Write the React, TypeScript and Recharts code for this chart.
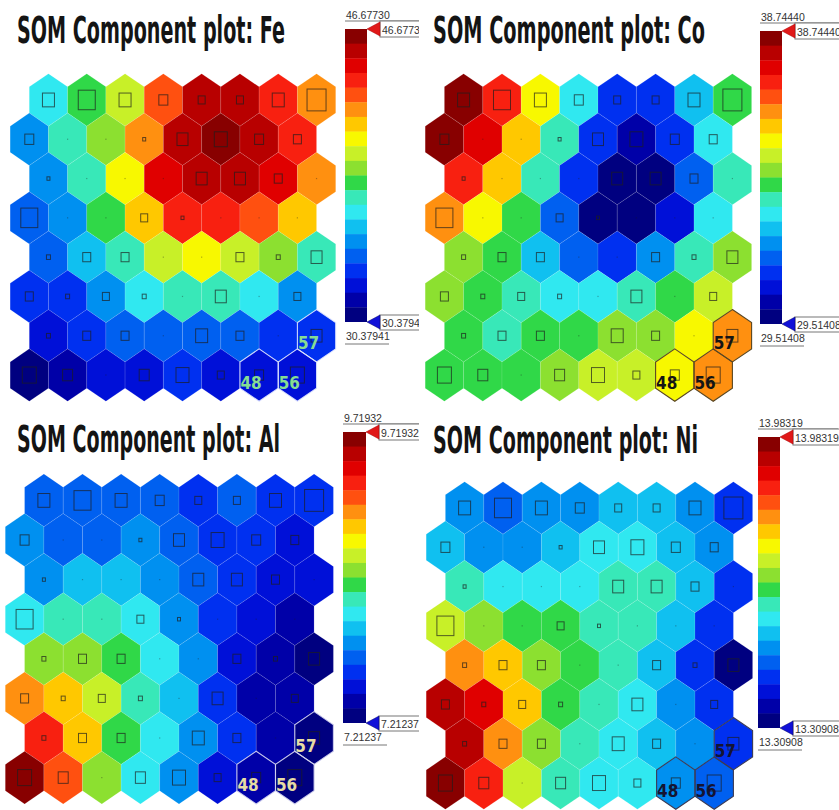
import React from "react";
import { ScatterChart, Scatter, XAxis, YAxis, BarChart, Bar, Cell } from "recharts";

// colour level per SOM node (0 = min ... 19 = max), rows top to bottom, 8 x 8 hex map
const feLevels = [
  [7, 9, 11, 15, 18, 18, 16, 14],
  [5, 8, 10, 14, 18, 19, 18, 16],
  [5, 8, 12, 17, 18, 18, 17, 14],
  [4, 5, 9, 13, 16, 16, 15, 13],
  [4, 6, 8, 11, 12, 11, 10, 8],
  [3, 3, 5, 7, 8, 8, 7, 5],
  [2, 3, 4, 4, 4, 4, 3, 3],
  [0, 1, 2, 2, 3, 2, 2, 2],
];
const coLevels = [
  [19, 16, 12, 7, 3, 3, 6, 9],
  [19, 17, 13, 8, 3, 1, 3, 7],
  [16, 13, 8, 3, 0, 0, 4, 8],
  [14, 12, 9, 4, 0, 0, 2, 7],
  [10, 9, 6, 4, 3, 5, 8, 10],
  [10, 9, 8, 7, 7, 8, 9, 11],
  [9, 8, 9, 9, 10, 10, 12, 14],
  [9, 9, 9, 10, 11, 11, 12, 14],
];
const alLevels = [
  [4, 4, 4, 4, 3, 4, 3, 3],
  [5, 4, 4, 5, 4, 3, 3, 2],
  [5, 6, 6, 5, 4, 3, 2, 2],
  [7, 8, 8, 7, 5, 3, 2, 1],
  [10, 10, 9, 7, 5, 2, 1, 0],
  [14, 13, 11, 8, 6, 3, 1, 1],
  [16, 13, 9, 7, 5, 3, 1, 0],
  [19, 15, 10, 7, 5, 2, 1, 0],
];
const niLevels = [
  [5, 4, 5, 5, 6, 6, 5, 3],
  [6, 5, 5, 6, 7, 7, 6, 5],
  [8, 7, 7, 7, 8, 8, 6, 3],
  [11, 10, 9, 9, 8, 8, 6, 3],
  [14, 13, 10, 9, 8, 6, 3, 0],
  [18, 17, 13, 9, 8, 7, 5, 3],
  [18, 14, 10, 8, 7, 6, 5, 3],
  [19, 16, 11, 8, 7, 7, 5, 4],
];

// hits per node, same map for all four planes
const hits = [
  [12, 17, 12, 9, 7, 7, 12, 19],
  [9, 0, 0, 3, 11, 13, 9, 8],
  [3, 0, 0, 0, 11, 11, 8, 0],
  [17, 0, 0, 7, 3, 0, 0, 0],
  [4, 8, 8, 0, 0, 8, 4, 11],
  [8, 4, 7, 4, 0, 11, 0, 7],
  [4, 8, 8, 0, 12, 8, 0, 11],
  [14, 10, 0, 10, 13, 7, 9, 14],
];

const markedNodes = [
  { row: 7, col: 6, label: "48" },
  { row: 7, col: 7, label: "56" },
  { row: 6, col: 7, label: "57" },
];

const components = ["Fe", "Co", "Al", "Ni"];
const maxValues = ["46.67730", "38.74440", "9.71932", "13.98319"];
const minValues = ["30.37941", "29.51408", "7.21237", "13.30908"];
const levelSets = [feLevels, coLevels, alLevels, niLevels];

const colorbarLevels = [19, 18, 17, 16, 15, 14, 13, 12, 11, 10, 9, 8, 7, 6, 5, 4, 3, 2, 1, 0];

const JET = [
  "#000080", "#0000a8", "#0010d8", "#0030f0", "#0060f0",
  "#0090f0", "#10c0f0", "#30e8f0", "#38e8b8", "#30d848",
  "#8ce030", "#c8f028", "#f8f800", "#ffc800", "#ff9010",
  "#ff5010", "#f82010", "#e00000", "#b80000", "#880000",
];

const panels = [
  { clip: { x: 0, y: 0, w: 419, h: 403 }, titleX: 17, titleY: 43, titleLen: 268, x0: 29, y0: 100, dx: 38.3, dy: 39.3,
    cb: { x: 345, y: 29, w: 22, h: 293 }, markFill: "#86dc92", markStroke: "rgba(225,230,255,0.85)" },
  { clip: { x: 419, y: 0, w: 420, h: 403 }, titleX: 433, titleY: 43, titleLen: 272, x0: 444, y0: 100, dx: 38.4, dy: 39.3,
    cb: { x: 760, y: 31, w: 22, h: 293 }, markFill: "#151515", markStroke: "#5a4620" },
  { clip: { x: 0, y: 403, w: 419, h: 407 }, titleX: 17, titleY: 452, titleLen: 263, x0: 25, y0: 500, dx: 38.6, dy: 39.6,
    cb: { x: 343, y: 432, w: 23, h: 291 }, markFill: "#e6dca4", markStroke: "rgba(210,210,240,0.85)" },
  { clip: { x: 419, y: 403, w: 420, h: 407 }, titleX: 433, titleY: 453, titleLen: 265, x0: 445, y0: 508, dx: 38.4, dy: 39.3,
    cb: { x: 758, y: 437, w: 22, h: 291 }, markFill: "#141433", markStroke: "#3a3a55" },
];

const NARROW = "'Liberation Sans Narrow', 'DejaVu Sans Condensed', sans-serif";
const SANS = "'Liberation Sans', Arial, sans-serif";

function hexPoints(cx: number, cy: number, dx: number, dy: number) {
  const hw = dx / 2;
  const hh = dy / 1.5;
  return [
    [0, -hh], [hw, -hh / 2], [hw, hh / 2], [0, hh], [-hw, hh / 2], [-hw, -hh / 2],
  ].map(([a, b]) => `${cx + a},${cy + b}`).join(" ");
}

function Panel({ idx }: { idx: number }) {
  const p = panels[idx];
  const { dx, dy, cb } = p;
  const nodes = levelSets[idx].flatMap((row, r) =>
    row.map((level, c) => ({ x: c + (r % 2 === 0 ? 0.5 : 0), y: r, level, hits: hits[r][c] }))
  );
  const marks = markedNodes.map((m) => ({ x: m.col + (m.row % 2 === 0 ? 0.5 : 0), y: m.row, label: m.label }));
  const cbData = colorbarLevels.map((l) => ({ level: String(l), span: 1 }));

  const nodeShape = (props: any) => {
    const { cx, cy, payload } = props;
    const s = payload.hits;
    const h = s * 1.15;
    return (
      <g>
        <polygon points={hexPoints(cx, cy, dx, dy)} fill={JET[payload.level]} stroke="rgba(255,255,255,0.18)" strokeWidth={0.6} />
        {s > 0 ? (
          <rect x={cx - s / 2} y={cy - h / 2} width={s} height={h} fill="none" stroke="rgba(30,30,30,0.7)" strokeWidth={1} />
        ) : (
          <rect x={cx - 0.6} y={cy - 0.6} width={1.2} height={1.2} fill="rgba(30,30,30,0.35)" />
        )}
      </g>
    );
  };

  const markShape = (props: any) => {
    const { cx, cy, payload } = props;
    return (
      <g>
        <polygon points={hexPoints(cx, cy, dx, dy)} fill="none" stroke={p.markStroke} strokeWidth={1.1} />
        <text x={cx - dx / 2 + 0.5} y={cy + dy / 3 + 0.5} fontFamily={NARROW} fontWeight={700} fontSize={17} fill={p.markFill}>
          {payload.label}
        </text>
      </g>
    );
  };

  const bx = cb.x + cb.w + 13;
  const bottom = cb.y + cb.h;

  return (
    <div style={{ position: "absolute", left: p.clip.x, top: p.clip.y, width: p.clip.w, height: p.clip.h, overflow: "hidden" }}>
      <div style={{ position: "absolute", left: -p.clip.x, top: -p.clip.y, width: 839, height: 810 }}>
        <div style={{ position: "absolute", left: p.x0 - dx, top: p.y0 - 1.5 * dy }}>
          <ScatterChart width={9.5 * dx} height={10 * dy} margin={{ top: 0, right: 0, bottom: 0, left: 0 }}>
            <XAxis type="number" dataKey="x" domain={[-1, 8.5]} allowDataOverflow hide />
            <YAxis type="number" dataKey="y" domain={[-1.5, 8.5]} allowDataOverflow reversed hide />
            <Scatter data={nodes} shape={nodeShape} isAnimationActive={false} />
            <Scatter data={marks} shape={markShape} isAnimationActive={false} />
          </ScatterChart>
        </div>
        <div style={{ position: "absolute", left: cb.x, top: cb.y }}>
          <BarChart width={cb.w} height={cb.h} data={cbData} layout="vertical" barCategoryGap={0}
            margin={{ top: 0, right: 0, bottom: 0, left: 0 }}>
            <XAxis type="number" domain={[0, 1]} hide />
            <YAxis type="category" dataKey="level" hide width={0} />
            <Bar dataKey="span" isAnimationActive={false}>
              {cbData.map((d) => (
                <Cell key={d.level} fill={JET[Number(d.level)]} />
              ))}
            </Bar>
          </BarChart>
        </div>
        <svg width={839} height={810} style={{ position: "absolute", left: 0, top: 0, pointerEvents: "none" }}>
          <text x={p.titleX} y={p.titleY} textLength={p.titleLen} lengthAdjust="spacingAndGlyphs"
            fontFamily={NARROW} fontWeight={700} fontSize={37} fill="#141414">
            {`SOM Component plot: ${components[idx]}`}
          </text>
          {/* max marker */}
          <text x={cb.x + 1} y={cb.y - 10} fontFamily={SANS} fontSize={10.5} fill="#333">{maxValues[idx]}</text>
          <line x1={cb.x} x2={cb.x + 80} y1={cb.y - 8} y2={cb.y - 8} stroke="#777" strokeWidth={1} />
          <rect x={bx} y={cb.y - 8} width={70} height={16} fill="#fff" stroke="#777" strokeWidth={1} />
          <text x={bx + 2} y={cb.y + 5} fontFamily={SANS} fontSize={10.5} fill="#333">{maxValues[idx]}</text>
          <polygon points={`${cb.x + cb.w},${cb.y} ${bx},${cb.y - 7} ${bx},${cb.y + 7}`} fill="#e01818" stroke="#a00" strokeWidth={0.5} />
          {/* min marker */}
          <rect x={bx} y={bottom - 7} width={70} height={15} fill="#fff" stroke="#777" strokeWidth={1} />
          <text x={bx + 2} y={bottom + 5} fontFamily={SANS} fontSize={10.5} fill="#333">{minValues[idx]}</text>
          <polygon points={`${cb.x + cb.w},${bottom} ${bx},${bottom - 7} ${bx},${bottom + 7}`} fill="#1010d8" stroke="#006" strokeWidth={0.5} />
          <text x={cb.x + 1} y={bottom + 18} fontFamily={SANS} fontSize={10.5} fill="#333">{minValues[idx]}</text>
          <line x1={cb.x} x2={cb.x + 44} y1={bottom + 22} y2={bottom + 22} stroke="#777" strokeWidth={1} />
        </svg>
      </div>
    </div>
  );
}

export default function App() {
  return (
    <div style={{ position: "absolute", left: 0, top: 0, width: 839, height: 810, background: "#fff", overflow: "hidden" }}>
      {components.map((_, i) => (
        <Panel key={i} idx={i} />
      ))}
    </div>
  );
}
